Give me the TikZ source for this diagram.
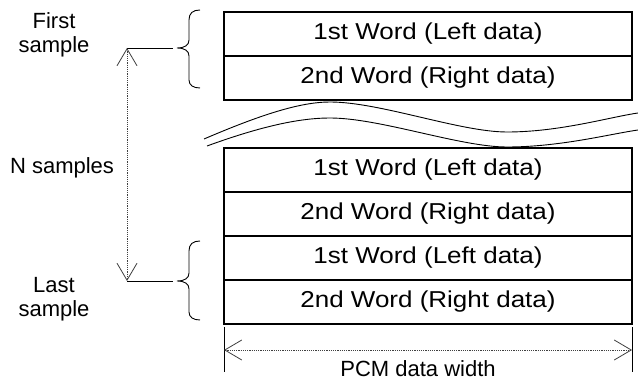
\documentclass[tikz,border=0pt]{standalone}
\usepackage{fontspec}
\setmainfont{Liberation Sans}
\usetikzlibrary{arrows.meta}
\tikzset{
  wordbox/.style={draw, line width=1.2pt, minimum width=408pt, minimum height=44pt, inner sep=0pt, font=\fontsize{23}{27}\selectfont},
  lbl/.style={anchor=base, inner sep=0pt, font=\fontsize{22}{24}\selectfont},
  thin/.style={line width=0.9pt},
  dimarrow/.style={line width=0.8pt, dash pattern=on 1.3pt off 0.9pt, draw=black!75,
     {Straight Barb[length=17pt,width=20pt,line width=0.8pt]}-{Straight Barb[length=17pt,width=20pt,line width=0.8pt]}},
}
\newcommand{\wtxt}[1]{\raisebox{1.5pt}{\scalebox{1.13}[1]{#1}}}
\begin{document}
\begin{tikzpicture}[x=1pt,y=-1pt]
\useasboundingbox (0,0) rectangle (638,382);
\fill[white] (0,0) rectangle (638,382);
% boxes
\node[wordbox] (t1) at (428,34) {\wtxt{1st Word (Left data)}};
\node[wordbox] (t2) at (428,78) {\wtxt{2nd Word (Right data)}};
\node[wordbox] (b1) at (428,170) {\wtxt{1st Word (Left data)}};
\node[wordbox] (b2) at (428,214) {\wtxt{2nd Word (Right data)}};
\node[wordbox] (b3) at (428,258) {\wtxt{1st Word (Left data)}};
\node[wordbox] (b4) at (428,302) {\wtxt{2nd Word (Right data)}};
% wavy break lines
\draw[thin] (204,139) .. controls (260,115) and (300,102) .. (330,102)
  .. controls (380,102) and (460,132) .. (507,132)
  .. controls (560,132) and (610,117) .. (638,113);
\draw[thin] (207,146) .. controls (262,126) and (300,118) .. (330,118)
  .. controls (380,118) and (460,147) .. (507,147)
  .. controls (560,147) and (610,134) .. (638,130);
% braces
\draw[thin] (200,10) .. controls (193,10) and (189,13) .. (189,20) -- (189,40)
  .. controls (189,45) and (185,48) .. (177,48)
  .. controls (185,48) and (189,51) .. (189,56) -- (189,80)
  .. controls (189,85) and (193,88) .. (200,88);
\draw[thin] (200,241) .. controls (193,241) and (189,244) .. (189,251) -- (189,273)
  .. controls (189,278) and (185,281) .. (177,281)
  .. controls (185,281) and (189,284) .. (189,289) -- (189,312)
  .. controls (189,317) and (193,320) .. (200,320);
% leader lines
\coordinate (ftip) at (127,48);
\coordinate (fend) at (173,48);
\coordinate (ltip) at (127,281);
\coordinate (lend) at (173,281);
\draw[thin] (ftip) -- (fend);
\draw[thin] (ltip) -- (lend);
\draw[dimarrow] (ftip) -- (ltip);
% width dimension
\coordinate (wl) at (224,350);
\coordinate (wr) at (632,350);
\draw[thin] (224,327) -- (224,372);
\draw[thin] (632,327) -- (632,372);
\draw[dimarrow] (wl) -- (wr);
% labels
\node[lbl] (first1) at (54,29) {First};
\node[lbl] (first2) at (54,53) {sample};
\node[lbl] (nsamp) at (62,174) {N samples};
\node[lbl] (last1) at (54,293) {Last};
\node[lbl] (last2) at (54,317) {sample};
\node[lbl] (pcm) at (418,377) {PCM data width};
\end{tikzpicture}
\end{document}
